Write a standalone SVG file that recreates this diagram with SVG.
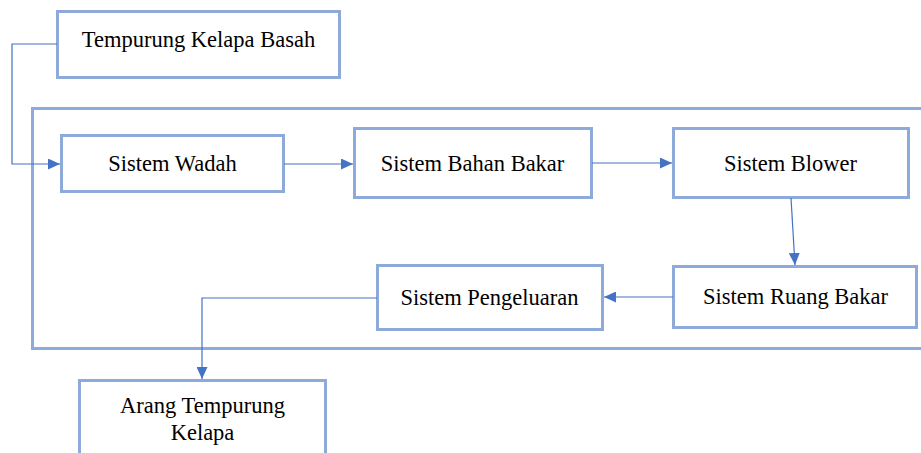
<svg xmlns="http://www.w3.org/2000/svg" width="921" height="453" viewBox="0 0 921 453">
<style>
.box{fill:#fff;stroke:#8EAADB;stroke-width:3}
.frame{fill:none;stroke:#8EAADB;stroke-width:3}
.lbl{font-family:'Liberation Serif','Times New Roman',serif;font-size:22.5px;fill:#000;text-anchor:middle}
.con{fill:none;stroke:#4472C4;stroke-width:1.2}
</style>
<defs>
<marker id="ah" markerWidth="12" markerHeight="11" refX="12" refY="5.5" orient="auto" markerUnits="userSpaceOnUse">
<path d="M0,0 L12,5.5 L0,11 Z" fill="#4472C4"/>
</marker>
</defs>
<rect width="921" height="453" fill="#fff"/>
<g id="container"><rect class="frame" x="32.5" y="108.5" width="895" height="240"/></g>
<g id="n1"><rect class="box" x="57.5" y="11.5" width="282" height="66"/><text class="lbl" x="198.5" y="47">Tempurung Kelapa Basah</text></g>
<g id="n2"><rect class="box" x="61.5" y="135.5" width="222" height="56"/><text class="lbl" x="172.5" y="171">Sistem Wadah</text></g>
<g id="n3"><rect class="box" x="354.5" y="128.5" width="237" height="69"/><text class="lbl" x="472.5" y="171">Sistem Bahan Bakar</text></g>
<g id="n4"><rect class="box" x="673.5" y="128.5" width="235" height="69"/><text class="lbl" x="790.5" y="171">Sistem Blower</text></g>
<g id="n5"><rect class="box" x="673.5" y="266.5" width="243" height="61"/><text class="lbl" x="795.5" y="304">Sistem Ruang Bakar</text></g>
<g id="n6"><rect class="box" x="377.5" y="265.5" width="225" height="64"/><text class="lbl" x="489.5" y="305">Sistem Pengeluaran</text></g>
<g id="n7"><rect class="box" x="79.5" y="380.5" width="246" height="90"/><text class="lbl" x="202.5" y="413">Arang Tempurung</text><text class="lbl" x="202.5" y="440">Kelapa</text></g>
<g id="connectors">
<path class="con" d="M57,44 H12 V164 H60" marker-end="url(#ah)"/>
<path class="con" d="M284,164 H353" marker-end="url(#ah)"/>
<path class="con" d="M592,163 H672" marker-end="url(#ah)"/>
<path class="con" d="M791,198 L795,265" marker-end="url(#ah)"/>
<path class="con" d="M673,297 H604" marker-end="url(#ah)"/>
<path class="con" d="M377,298 H202 V379" marker-end="url(#ah)"/>
</g>
</svg>
